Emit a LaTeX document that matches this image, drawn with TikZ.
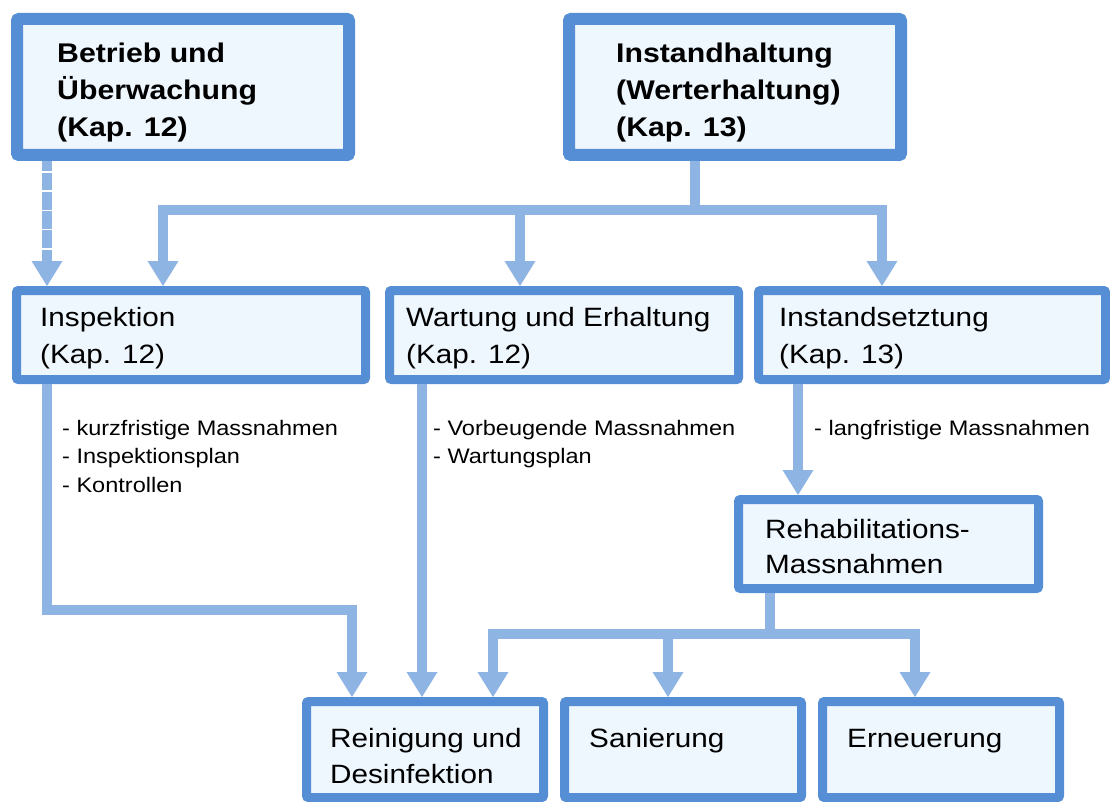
\documentclass[tikz,border=0pt]{standalone}
\usepackage{fontspec}
\setmainfont{Liberation Sans}[FakeStretch=1.12]
\usetikzlibrary{arrows.meta}

\definecolor{boxline}{HTML}{558ED5}
\definecolor{boxfill}{HTML}{EEF6FE}
\definecolor{flowblue}{HTML}{8DB4E2}

\tikzset{
  box/.style={draw=boxline, fill=boxfill, rounded corners=2pt, inner sep=0pt},
  bigbox/.style={box, line width=12pt},
  smallbox/.style={box, line width=9pt},
  link/.style={draw=flowblue, line width=10pt, line cap=butt, line join=miter},
  arrowend/.style={-{Triangle[width=31pt,length=25pt,line width=0pt]}},
  arrowboth/.style={{Triangle[width=31pt,length=25pt,line width=0pt]}-{Triangle[width=31pt,length=25pt,line width=0pt]}},
  headtext/.style={anchor=base west, inner sep=0pt, font=\fontsize{27}{37}\selectfont\bfseries},
  boxtext/.style={anchor=base west, inner sep=0pt, font=\fontsize{26.5}{37}\selectfont},
  notetext/.style={anchor=base west, inner sep=0pt, font=\fontsize{21}{28.5}\selectfont},
}

\newcommand{\lines}[1]{\begin{tabular}[t]{@{}l@{}}#1\end{tabular}}

\begin{document}
\begin{tikzpicture}[x=1pt, y=-1pt]
  \useasboundingbox (0,0) rectangle (1110,802);

  % boxes
  \node[bigbox, minimum width=332pt, minimum height=136pt] (betrieb) at (183,87) {};
  \node[bigbox, minimum width=332pt, minimum height=136pt] (instand) at (735,87) {};
  \node[smallbox, minimum width=349pt, minimum height=89pt] (insp) at (191,335) {};
  \node[smallbox, minimum width=349pt, minimum height=89pt] (wart) at (564,335) {};
  \node[smallbox, minimum width=347pt, minimum height=89pt] (instset) at (932,335) {};
  \node[smallbox, minimum width=300pt, minimum height=89pt] (rehab) at (888.5,544) {};
  \node[smallbox, minimum width=237pt, minimum height=96pt] (rein) at (425,749.5) {};
  \node[smallbox, minimum width=237pt, minimum height=96pt] (san) at (683,749.5) {};
  \node[smallbox, minimum width=237pt, minimum height=96pt] (ern) at (941,749.5) {};

  % routing points
  \coordinate (dashx) at (47,0);
  \coordinate (hub) at (695,210);
  \coordinate (hubL) at (163,210);
  \coordinate (hubM) at (520,210);
  \coordinate (hubR) at (882,210);
  \coordinate (bendA) at (47,610);
  \coordinate (bendB) at (352,610);
  \coordinate (wx) at (422,0);
  \coordinate (sx) at (798,0);
  \coordinate (rhub) at (770,634);
  \coordinate (rhubL) at (493,634);
  \coordinate (rhubM) at (668,634);
  \coordinate (rhubR) at (915,634);

  % connectors
  \draw[link, arrowend, dash pattern=on 17.75pt off 1.5pt, dash phase=7.5pt]
    (betrieb.south -| dashx) -- (insp.north -| dashx);
  \draw[link] (instand.south -| hub) -- (hub);
  \draw[link, arrowboth] (insp.north -| hubL) -- (hubL) -- (hubR) -- (instset.north -| hubR);
  \draw[link, arrowend] (hubM) -- (wart.north -| hubM);

  \draw[link, arrowend] (insp.south -| bendA) -- (bendA) -- (bendB) -- (rein.north -| bendB);
  \draw[link, arrowend] (wart.south -| wx) -- (rein.north -| wx);
  \draw[link, arrowend] (instset.south -| sx) -- (rehab.north -| sx);

  \draw[link] (rehab.south -| rhub) -- (rhub);
  \draw[link, arrowboth] (rein.north -| rhubL) -- (rhubL) -- (rhubR) -- (ern.north -| rhubR);
  \draw[link, arrowend] (rhubM) -- (san.north -| rhubM);

  % box texts
  \node[headtext] (t-betrieb) at (57,63) {\lines{Betrieb und\\Überwachung\\(Kap. 12)}};
  \node[headtext] (t-instand) at (616,63) {\lines{Instandhaltung\\(Werterhaltung)\\(Kap. 13)}};
  \node[boxtext] (t-insp) at (40,326) {\lines{Inspektion\\(Kap. 12)}};
  \node[boxtext] (t-wart) at (406,326) {\lines{Wartung und Erhaltung\\(Kap. 12)}};
  \node[boxtext] (t-instset) at (779,326) {\lines{Instandsetztung\\(Kap. 13)}};
  \node[boxtext, font=\fontsize{26.5}{35}\selectfont] (t-rehab) at (765,538) {\lines{Rehabilitations-\\Massnahmen}};
  \node[boxtext, font=\fontsize{26.5}{36}\selectfont] (t-rein) at (330,747) {\lines{Reinigung und\\Desinfektion}};
  \node[boxtext] (t-san) at (589,747) {Sanierung};
  \node[boxtext] (t-ern) at (847,747) {Erneuerung};

  % notes beside the connectors
  \node[notetext] (n-insp) at (62,435) {\lines{- kurzfristige Massnahmen\\- Inspektionsplan\\- Kontrollen}};
  \node[notetext] (n-wart) at (433,435) {\lines{- Vorbeugende Massnahmen\\- Wartungsplan}};
  \node[notetext] (n-instset) at (814,435) {- langfristige Massnahmen};
\end{tikzpicture}
\end{document}
